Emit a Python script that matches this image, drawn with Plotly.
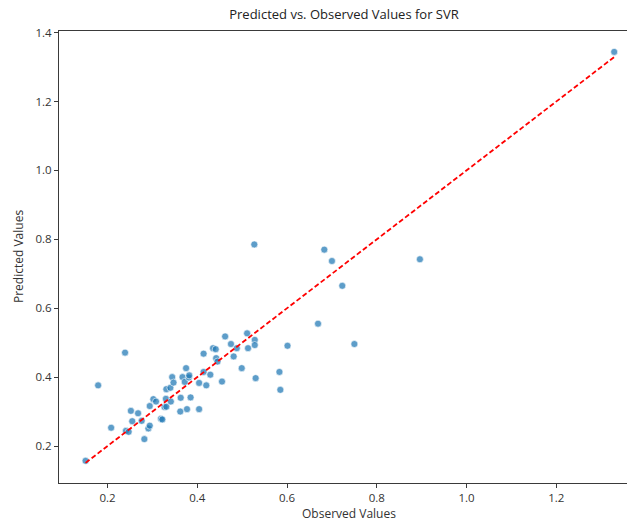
import plotly.graph_objects as go

observed = [
    0.151, 0.179, 0.208, 0.239, 0.241, 0.247, 0.252, 0.255, 0.268, 0.276,
    0.282, 0.291, 0.294, 0.294, 0.302, 0.308, 0.319, 0.322, 0.327, 0.330,
    0.331, 0.331, 0.340, 0.341, 0.344, 0.347, 0.362, 0.363, 0.367, 0.372,
    0.375, 0.377, 0.381, 0.382, 0.385, 0.404, 0.404, 0.414, 0.414, 0.420,
    0.429, 0.435, 0.441, 0.442, 0.445, 0.455, 0.462, 0.475, 0.481, 0.488,
    0.499, 0.511, 0.513, 0.527, 0.528, 0.528, 0.530, 0.583, 0.585, 0.601,
    0.669, 0.683, 0.700, 0.723, 0.750, 0.896, 1.329,
]
predicted = [
    0.157, 0.376, 0.253, 0.471, 0.244, 0.241, 0.302, 0.272, 0.295, 0.273,
    0.220, 0.251, 0.259, 0.316, 0.336, 0.329, 0.279, 0.277, 0.313, 0.337,
    0.314, 0.365, 0.369, 0.329, 0.400, 0.384, 0.300, 0.340, 0.400, 0.386,
    0.426, 0.307, 0.399, 0.405, 0.341, 0.307, 0.383, 0.415, 0.468, 0.376,
    0.407, 0.484, 0.481, 0.455, 0.445, 0.387, 0.518, 0.496, 0.460, 0.484,
    0.426, 0.527, 0.484, 0.785, 0.508, 0.493, 0.397, 0.415, 0.363, 0.491,
    0.555, 0.770, 0.737, 0.665, 0.496, 0.742, 1.344,
]
x_ticks = [0.2, 0.4, 0.6, 0.8, 1.0, 1.2]
y_ticks = [0.2, 0.4, 0.6, 0.8, 1.0, 1.2, 1.4]

line_ends = [min(observed), max(observed)]

FONT = "Open Sans, DejaVu Sans, sans-serif"
AX = "#3a3a3a"

fig = go.Figure()
fig.add_trace(go.Scatter(
    x=observed, y=predicted, mode="markers",
    marker=dict(size=7, color="rgba(31,119,180,0.72)",
                line=dict(color="white", width=0.6)),
    showlegend=False, hoverinfo="x+y",
))
fig.add_trace(go.Scatter(
    x=line_ends, y=line_ends, mode="lines",
    line=dict(color="red", width=1.8, dash="5px,2.6px"),
    showlegend=False, hoverinfo="skip",
))

W, H = 627, 521
ml, mr, mt, mb = 59, 0, 31, 38

axis_common = dict(
    showgrid=False, zeroline=False, showline=True, linecolor=AX, linewidth=1,
    ticks="outside", ticklen=4, tickwidth=1, tickcolor=AX,
    tickfont=dict(family=FONT, size=11.5, color="#333333"),
    tickformat=".1f",
)
fig.update_layout(
    width=W, height=H,
    margin=dict(l=ml, r=mr, t=mt, b=mb),
    paper_bgcolor="white", plot_bgcolor="white",
    xaxis=dict(range=[0.0918, 1.3575], tickvals=x_ticks, mirror=True, **axis_common),
    yaxis=dict(range=[0.0926, 1.4046], tickvals=y_ticks, mirror=False, **axis_common),
    title=dict(text="Predicted vs. Observed Values for SVR", x=(344 - ml) / (W - ml - mr),
               xref="paper", xanchor="center", y=1 - 14 / H, yanchor="middle",
               font=dict(family=FONT, size=13, color="#222222")),
    annotations=[
        dict(text="Observed Values", xref="paper", yref="paper",
             x=(349 - ml) / (W - ml - mr), y=-(513 - (H - mb)) / (H - mt - mb),
             xanchor="center", yanchor="middle", showarrow=False,
             font=dict(family=FONT, size=12, color="#333333")),
        dict(text="Predicted Values", xref="paper", yref="paper",
             x=-(ml - 18) / (W - ml - mr), y=0.5, textangle=-90,
             xanchor="center", yanchor="middle", showarrow=False,
             font=dict(family=FONT, size=12, color="#333333")),
    ],
)

fig.write_html("out.html")
